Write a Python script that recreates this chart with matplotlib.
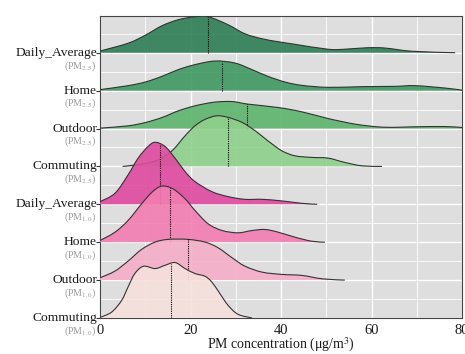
import numpy as np
import matplotlib
matplotlib.use("Agg")
import matplotlib.pyplot as plt
from matplotlib.path import Path
from matplotlib.patches import PathPatch
import matplotlib.transforms as mtransforms

plt.rcParams['font.family'] = ['Liberation Serif', 'DejaVu Serif']
plt.rcParams['mathtext.fontset'] = 'stix'

# ---- data (bottom to top) ----
labels = ["Commuting", "Outdoor", "Home", "Daily_Average",
          "Commuting", "Outdoor", "Home", "Daily_Average"]
pm_labels = [r"(PM$_{1.0}$)"] * 4 + [r"(PM$_{2.5}$)"] * 4
colors = ["#f6e1dc", "#f5aec8", "#f27db1", "#e0499f",
          "#8fd08c", "#5cb46d", "#3f9962", "#2e7e55"]

x_comm1 = [0, 2.6, 4.8, 6.2, 7.7, 9.6, 12.2, 14.4, 16.6, 18.8, 21, 23.2, 24.7, 26.5, 28.3, 30.5, 33.6]
d_comm1 = [0.5, 6, 17.7, 31, 44.4, 51.7, 49.4, 52.7, 55.4, 49.4, 44.4, 41.7, 36, 24.4, 12.7, 3.7, 0]

x_out1 = [0, 3.3, 6.2, 9.2, 12.2, 15.1, 19.4, 23.2, 26.1, 29.2, 32, 35.8, 40.2, 44.6, 49.1, 54.1]
d_out1 = [2.3, 9, 19, 30.7, 38, 40.7, 40.7, 38, 32.3, 22.3, 14, 8, 5.7, 4.7, 1.3, 0]

x_home1 = [0, 3.3, 6.2, 9.2, 11.5, 13.6, 16.1, 18.8, 21, 23.9, 27, 30.5, 33.6, 36.5, 39.4, 43.1, 46.8, 49.7]
d_home1 = [1.7, 10, 21.7, 38.4, 50, 56, 53.4, 43.4, 31.7, 18.4, 11.7, 9.4, 11.7, 12.7, 10, 5, 1, 0]

x_daily1 = [0, 3.3, 6.2, 8.4, 10.6, 12.2, 14.4, 16.6, 18.8, 21, 24.7, 28.3, 32, 35.8, 40.2, 44.6, 48]
d_daily1 = [2.7, 11, 29.4, 46, 57.7, 62, 57.7, 46, 32.7, 22.7, 12.7, 7.7, 5, 5, 3.4, 1, 0]

x_comm25 = [5, 7, 10, 13, 16, 18.8, 21, 23.2, 25.8, 28.3, 31.4, 34.3, 37.1, 40.2, 43.1, 46.8, 50.4, 54.1, 57.9, 62.3]
d_comm25 = [0, 1, 3, 7, 16, 30.6, 40.6, 47, 50.6, 49, 44, 35.6, 25.6, 15.6, 10.6, 9, 8.3, 4, 0.6, 0]

x_out25 = [0, 6.2, 10, 13.7, 17.3, 21, 24.7, 27.5, 29.8, 32.7, 39.4, 44.6, 50.4, 56.4, 61.4, 65, 69, 76.2, 80]
d_out25 = [0.4, 2.7, 6, 11, 17.7, 22.7, 26, 27, 26.7, 24.4, 21, 16.7, 10, 4.4, 1.7, 1.2, 1.7, 2, 1]

x_home25 = [0, 6.2, 10, 13.7, 17.3, 21, 25.4, 29.8, 33.6, 37.1, 40.9, 44.6, 50.4, 57.9, 65.2, 69.6, 76.2, 80]
d_home25 = [1, 5, 8.6, 14.3, 21, 26, 29.6, 27.6, 21, 14.3, 8.6, 5.3, 3.3, 4, 4.3, 5, 2.6, 0.5]

x_daily25 = [0, 6.2, 10, 13.7, 17.3, 21, 23.9, 28.3, 32, 35.8, 39.4, 43, 50.4, 54, 59, 63, 69, 78.5]
d_daily25 = [1.7, 9.5, 17.5, 27, 33, 36, 36, 28, 19, 14, 11, 8.5, 3.5, 3.5, 5, 4.7, 1.5, 0]

medians = [15.7, 19.4, 15.5, 13.3, 28.3, 32.5, 27.0, 23.9]

xs = [x_comm1, x_out1, x_home1, x_daily1, x_comm25, x_out25, x_home25, x_daily25]
ds = [d_comm1, d_out1, d_home1, d_daily1, d_comm25, d_out25, d_home25, d_daily25]

ridge_scale = 1 / 37.86  # density units -> row units

# ---- figure ----
fig = plt.figure(figsize=(4.65, 3.54), dpi=100)
ax = fig.add_axes([100 / 465, 1 - 318 / 354, 362 / 465, (318 - 16) / 354])
ax.set_facecolor("#dedede")
ax.set_xlim(0, 80)
ax.set_ylim(0, 7.97)


def bezier_verts(px, py):
    pts = np.column_stack([px, py])
    n = len(pts)
    verts = [pts[0]]
    codes = [Path.MOVETO]
    for i in range(n - 1):
        p0 = pts[i - 1] if i > 0 else pts[i]
        p1 = pts[i]
        p2 = pts[i + 1]
        p3 = pts[i + 2] if i + 2 < n else pts[i + 1]
        c1 = p1 + (p2 - p0) / 6.0
        c2 = p2 - (p3 - p1) / 6.0
        verts += [c1, c2, p2]
        codes += [Path.CURVE4] * 3
    return verts, codes


for i in reversed(range(8)):
    base = i
    x = np.array(xs[i], dtype=float)
    y = base + np.array(ds[i], dtype=float) * ridge_scale
    verts, codes = bezier_verts(x, y)
    z = 10 + (8 - i) * 2
    fverts = list(verts) + [(x[-1], base), (x[0], base), (x[0], y[0])]
    fcodes = list(codes) + [Path.LINETO, Path.LINETO, Path.CLOSEPOLY]
    ax.add_patch(PathPatch(Path(fverts, fcodes), facecolor=colors[i],
                           edgecolor="none", alpha=0.9, zorder=z))
    ax.add_patch(PathPatch(Path(verts, codes), facecolor="none",
                           edgecolor="#333333", lw=0.8, zorder=z + 1))
    m = medians[i]
    top = base + np.interp(m, x, ds[i]) * ridge_scale
    ax.plot([m, m], [base, top], color="black", lw=0.8, ls=(0, (1, 1)), zorder=z + 1)

# grid
ax.set_xticks([0, 20, 40, 60, 80])
ax.set_xticks([10, 30, 50, 70], minor=True)
ax.set_yticks(range(8))
ax.set_yticks(np.arange(0.5, 8, 1), minor=True)
ax.grid(True, which="major", color="white", lw=1.0, zorder=0)
ax.grid(True, which="minor", color="white", lw=0.6, zorder=0)
ax.set_axisbelow(True)

ax.tick_params(axis="x", which="major", length=0, labelsize=10.5, pad=4, colors="#1a1a1a")
ax.tick_params(axis="y", which="major", length=3, width=0.8, colors="#333333")
ax.tick_params(which="minor", length=0)
ax.set_yticklabels([])
for s in ax.spines.values():
    s.set_color("#444444")
    s.set_linewidth(0.8)

# y labels (two lines)
trans = mtransforms.blended_transform_factory(fig.transFigure, ax.transData)
for i in range(8):
    ax.text(97 / 465, i, labels[i], transform=trans, ha="right", va="center",
            fontsize=9.7, color="#1a1a1a")
    off = mtransforms.offset_copy(trans, fig=fig, x=0, y=-13, units="dots")
    ax.text(96 / 465, i, pm_labels[i], transform=off, ha="right", va="center",
            fontsize=7.2, color="#9a9a9a")

fig.text(281 / 465, 1 - 345 / 354, r"PM concentration ($\mathregular{\mu}$g/m$^3$)",
         ha="center", va="center", fontsize=10, color="#1a1a1a")

fig.savefig("out.png", dpi=100)
